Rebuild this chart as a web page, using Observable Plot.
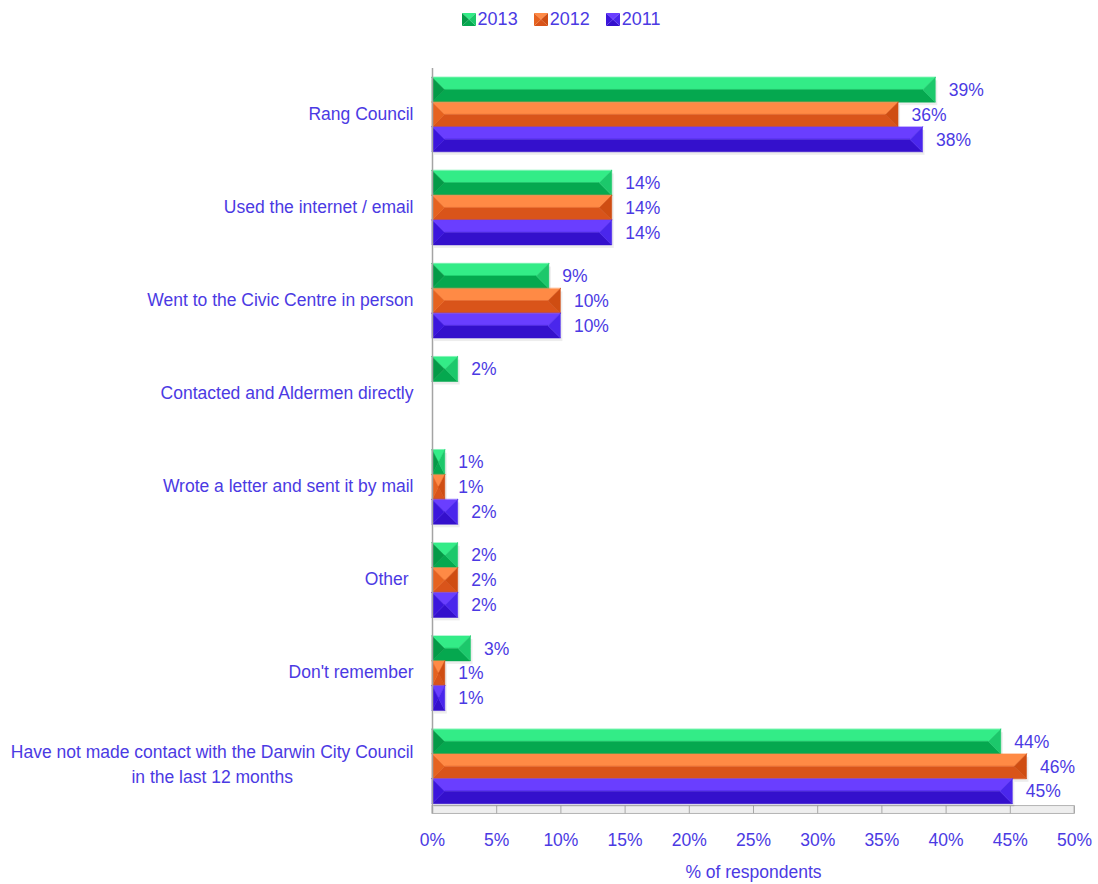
<!DOCTYPE html>
<html><head><meta charset="utf-8">
<script src="https://cdn.jsdelivr.net/npm/d3@7"></script>
<script src="https://cdn.jsdelivr.net/npm/@observablehq/plot@0.6"></script>
<style>
body{margin:0;background:#fff;font-family:"Liberation Sans",Arial,sans-serif;}
#legend{height:38px;display:flex;justify-content:center;align-items:center;padding-left:24px;box-sizing:border-box;color:#4b3ae3;font-size:18px;}
.item{display:flex;align-items:center;margin:0 8px;}
.item svg{margin-right:2px;}
</style></head><body>
<div id="legend"></div>
<div id="chart"></div>
<script>
// ---- data ----
const categories = [
  "Rang Council",
  "Used the internet / email",
  "Went to the Civic Centre in person",
  "Contacted and Aldermen directly",
  "Wrote a letter and sent it by mail",
  "Other\u00a0",
  "Don't remember",
  "Have not made contact with the Darwin City Council\nin the last 12 months"
];
const years = ["2013", "2012", "2011"];
const values2013 = [39.2, 14.0, 9.1, 2.0, 1.0, 2.0, 3.0, 44.3];
const values2012 = [36.3, 14.0, 10.0, null, 1.0, 2.0, 1.0, 46.3];
const values2011 = [38.2, 14.0, 10.0, null, 2.0, 2.0, 1.0, 45.2];
const xTicks = [0, 5, 10, 15, 20, 25, 30, 35, 40, 45, 50];
const xLabel = "% of respondents";

// ---- style ----
const series = [values2013, values2012, values2011];
const palette = {
  "2013": {top: "#33ec87", bottom: "#05a84f", left: "#049a47", right: "#1cc86b"},
  "2012": {top: "#ff8a45", bottom: "#d9541a", left: "#e6621f", right: "#cf4d12"},
  "2011": {top: "#6a3eff", bottom: "#3410cc", left: "#3b15dc", right: "#4a26ec"}
};
const textColor = "#4b3ae3";
const FS = 17.5;
const W = 1098, H = 846, ML = 432, MR = 24, MT = 30, MB = 71;
const kx = (W - ML - MR) / 50, ky = (H - MT - MB) / 8;
const band = 0.8, bh = band / 3;

// legend
const legend = document.getElementById("legend");
years.forEach(yr => {
  const c = palette[yr];
  const it = document.createElement("div");
  it.className = "item";
  it.innerHTML = `<svg width="14" height="13"><polygon points="0,0 14,0 7,6.5" fill="${c.top}"/><polygon points="0,13 14,13 7,6.5" fill="${c.bottom}"/><polygon points="0,0 0,13 7,6.5" fill="${c.left}"/><polygon points="14,0 14,13 7,6.5" fill="${c.right}"/></svg><span>${yr}</span>`;
  legend.appendChild(it);
});

// bars
const bars = [];
years.forEach((yr, j) => series[j].forEach((v, i) => {
  if (v == null) return;
  const y0 = i - band / 2 + j * bh;
  bars.push({yr, j, i, v, y0, y1: y0 + bh, ym: y0 + bh / 2, label: Math.round(v) + "%"});
}));
const pts = [];
bars.forEach((b, k) => {
  const bev = Math.min(bh * ky / 2, b.v * kx / 2) / kx;
  const c = palette[b.yr];
  const add = (face, fill, arr) => arr.forEach(([y, x1, x2]) => pts.push({id: k + face, fill, y, x1, x2}));
  add("t", c.top, [[b.y0, 0, b.v], [b.ym, bev, b.v - bev]]);
  add("b", c.bottom, [[b.ym, bev, b.v - bev], [b.y1, 0, b.v]]);
  add("l", c.left, [[b.y0, 0, 0], [b.ym, 0, bev], [b.y1, 0, 0]]);
  add("r", c.right, [[b.y0, b.v, b.v], [b.ym, b.v - bev, b.v], [b.y1, b.v, b.v]]);
});

const catRows = categories.map((name, i) => ({name, i, multi: name.includes("\n")}));
const ctx = document.createElement("canvas").getContext("2d");
ctx.font = FS + "px 'Liberation Sans'";
const multiW = d3.max(catRows.filter(d => d.multi), d => d3.max(d.name.split("\n"), s => ctx.measureText(s).width)) || 0;

const chart = Plot.plot({
  width: W, height: H,
  marginLeft: ML, marginRight: MR, marginTop: MT, marginBottom: MB,
  style: {fontFamily: "'Liberation Sans', Arial, sans-serif", fontSize: FS + "px", color: textColor, background: "#fff"},
  x: {domain: [0, 50], axis: null},
  y: {domain: [7.5, -0.5], axis: null},
  color: {type: "identity"},
  marks: [
    // floor strip
    Plot.rect([0], {x1: () => 0, x2: () => 50, y1: () => 7.42, y2: () => 7.505, fill: "#eeeeee", stroke: "#b4b4b4", strokeWidth: 1}),
    Plot.ruleX(xTicks, {x: d => d, y1: () => 7.42, y2: () => 7.505, stroke: "#a8a8a8"}),
    // shadows
    Plot.rect(bars, {x1: () => 0, x2: "v", y1: "y0", y2: "y1", fill: "#000", fillOpacity: 0.07, dx: 2, dy: 3}),
    Plot.areaX(pts, {y: "y", x1: "x1", x2: "x2", z: "id", fill: "fill", stroke: "fill", strokeWidth: 0.5, curve: "linear"}),
    Plot.ruleX([0], {stroke: "#a4a4a4", strokeWidth: 1.5}),
    // value labels
    Plot.text(bars, {x: "v", y: "ym", text: "label", dx: 13, textAnchor: "start", fill: textColor}),
    // category labels
    Plot.text(catRows.filter(d => !d.multi), {x: () => 0, y: "i", text: "name", textAnchor: "end", dx: -19, dy: -1, fill: textColor}),
    Plot.text(catRows.filter(d => d.multi), {x: () => 0, y: "i", text: "name", textAnchor: "middle", dx: -19 - multiW / 2, dy: -4, lineHeight: 1.43, fill: textColor}),
    // x tick labels
    Plot.text(xTicks, {x: d => d, frameAnchor: "bottom", dy: 32, text: d => d + "%", fill: textColor}),
    Plot.text([xLabel], {frameAnchor: "bottom", dy: 64, text: d => d, fill: textColor})
  ]
});
document.getElementById("chart").appendChild(chart);
</script></body></html>
